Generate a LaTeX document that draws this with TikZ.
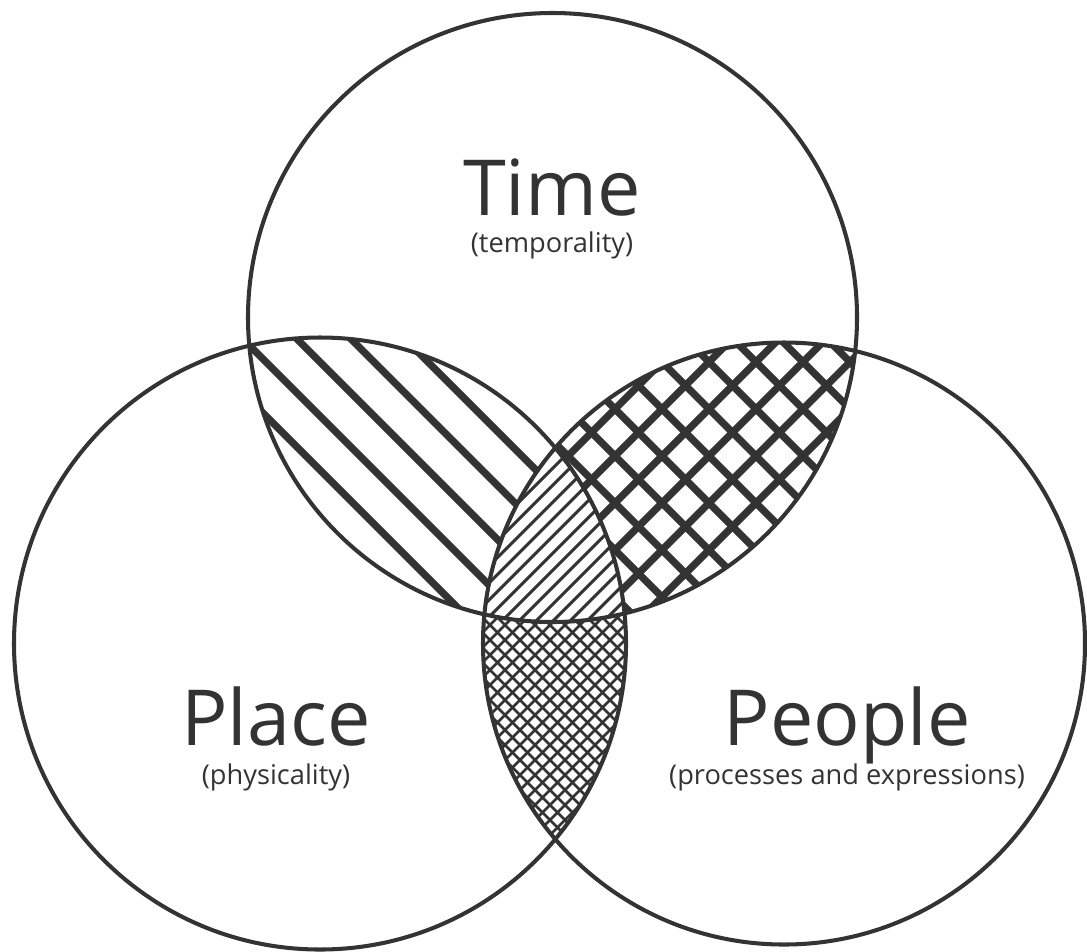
\documentclass[tikz,border=0pt]{standalone}
\usepackage{fontspec}
\setmainfont{Open Sans}
\usetikzlibrary{positioning}
\definecolor{ink}{HTML}{333333}

\begin{document}
\begin{tikzpicture}[x=0.02cm, y=-0.02cm,
    ring/.style={draw=ink, line width=2.3pt},
    bigword/.style={font=\fontsize{44}{48}\selectfont, text=ink,
        inner sep=0pt, anchor=base},
    smallword/.style={font=\fontsize{15.5}{18}\selectfont, text=ink,
        inner sep=0pt, anchor=base},
    widehatch/.style={draw=ink, line width=4.2pt},
    gridhatch/.style={draw=ink, line width=4.2pt},
    thinhatch/.style={draw=ink, line width=1.7pt},
    finehatch/.style={draw=ink, line width=1.5pt}
]
\useasboundingbox (0,0) rectangle (1087,951);
% circle centres and radii
\coordinate (timeC)   at (552.5,317.5);
\coordinate (placeC)  at (320,643.5);
\coordinate (peopleC) at (784,643.5);
\def\rtime{304.5}
\def\rplace{306}
\def\rpeople{301}

% time and place: broad stripes
\begin{scope}
  \clip (timeC) circle[radius=\rtime];
  \clip (placeC) circle[radius=\rplace];
  \foreach \c in {-312,-258,...,175}
    \draw[widehatch] ({\c+300},300) -- ++(450,450);
\end{scope}
% time and people: coarse grid
\begin{scope}
  \clip (timeC) circle[radius=\rtime];
  \clip (peopleC) circle[radius=\rpeople];
  \foreach \c in {-170,-123,...,560}
    \draw[gridhatch] ({\c+300},300) -- ++(450,450);
  \foreach \d in {930,977,...,1420}
    \draw[gridhatch] ({\d-750},750) -- ++(450,-450);
\end{scope}
% place and people: fine grid
\begin{scope}
  \clip (placeC) circle[radius=\rplace];
  \clip (peopleC) circle[radius=\rpeople];
  \foreach \c in {-360,-345,...,60}
    \draw[finehatch] ({\c+600},600) -- ++(300,300);
  \foreach \d in {1040,1055,...,1460}
    \draw[finehatch] ({\d-900},900) -- ++(350,-350);
\end{scope}
% all three: thin stripes
\begin{scope}
  \clip (timeC) circle[radius=\rtime];
  \clip (placeC) circle[radius=\rplace];
  \clip (peopleC) circle[radius=\rpeople];
  \fill[white] (300,400) rectangle (800,700);
  \foreach \d in {970,987,...,1260}
    \draw[thinhatch] ({\d-700},700) -- ++(300,-300);
\end{scope}

% the three circles
\draw[ring] (timeC) circle[radius=\rtime];
\draw[ring] (placeC) circle[radius=\rplace];
\draw[ring] (peopleC) circle[radius=\rpeople];

% labels
\node[bigword]   (time)     at (552,215) {Time};
\node[smallword] (timeSub)  at (552,252) {(temporality)};
\node[bigword]   (place)    at (276,745) {Place};
\node[smallword] (placeSub) at (276,784) {(physicality)};
\node[bigword]   (people)   at (847,745) {People};
\node[smallword] (peopleSub) at (847,784) {(processes and expressions)};
\end{tikzpicture}
\end{document}
